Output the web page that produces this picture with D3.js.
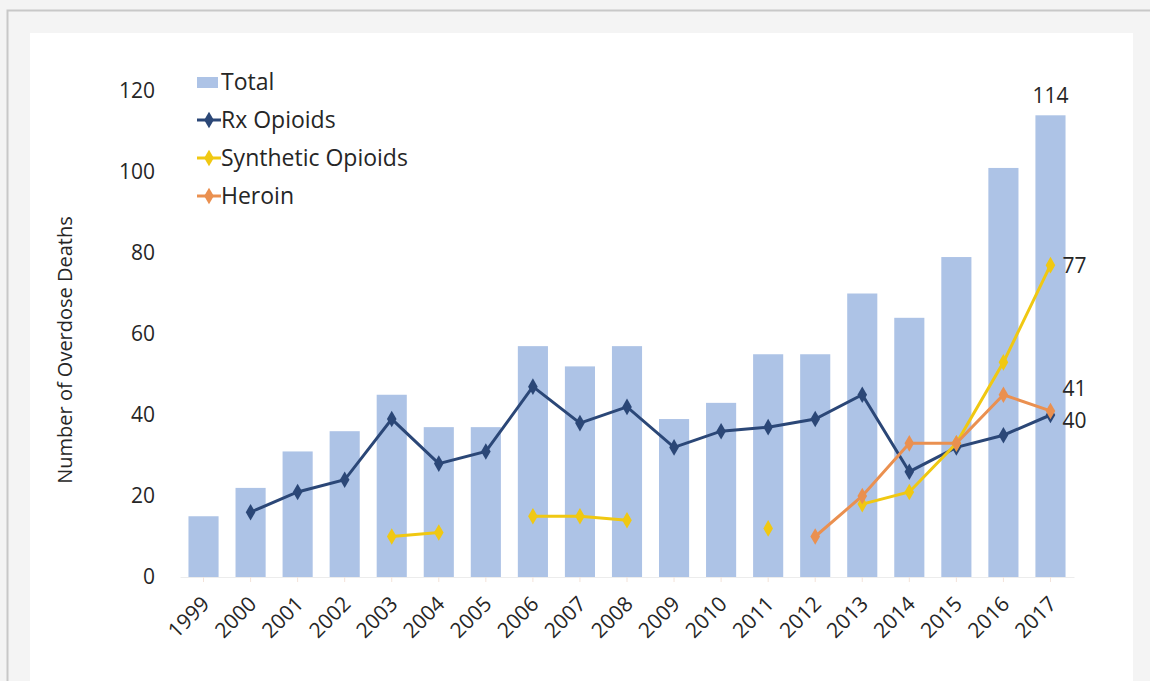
<!DOCTYPE html>
<html>
<head>
<meta charset="utf-8">
<script src="https://cdn.jsdelivr.net/npm/d3@7"></script>
<style>
  html, body { margin: 0; padding: 0; background: #f4f4f4; }
  #chart { width: 1150px; height: 681px; }
  text { font-family: "Open Sans", "Liberation Sans", sans-serif; fill: #262626; }
</style>
</head>
<body>
<div id="chart"></div>
<script>
var years = ["1999", "2000", "2001", "2002", "2003", "2004", "2005", "2006", "2007", "2008",
    "2009", "2010", "2011", "2012", "2013", "2014", "2015", "2016", "2017"];
var total = [15, 22, 31, 36, 45, 37, 37, 57, 52, 57, 39, 43, 55, 55, 70, 64, 79, 101, 114];
var rxOpioids = [null, 16, 21, 24, 39, 28, 31, 47, 38, 42, 32, 36, 37, 39, 45, 26, 32, 35, 40];
var synthetic = [null, null, null, null, 10, 11, null, 15, 15, 14, null, null, 12, null, 18, 21, 33, 53, 77];
var heroin = [null, null, null, null, null, null, null, null, null, null, null, null, null, 10, 20, 33, 33, 45, 41];
var yTicks = [0, 20, 40, 60, 80, 100, 120];

var full_width = 1150,
    full_height = 681;

var margin = { top: 91, right: 76, bottom: 104, left: 180 };
var width = full_width - margin.left - margin.right;
var height = full_height - margin.top - margin.bottom;

var svg = d3.select("#chart").append("svg")
    .attr("width", full_width)
    .attr("height", full_height);

// page frame
svg.append("rect")
    .attr("x", 7.5).attr("y", 10.5)
    .attr("width", 1160).attr("height", 700)
    .attr("fill", "#f4f4f4")
    .attr("stroke", "#c8c8c8")
    .attr("stroke-width", 2);

svg.append("rect")
    .attr("x", 30).attr("y", 33)
    .attr("width", 1103).attr("height", 660)
    .attr("fill", "#ffffff");

var x = d3.scaleBand()
    .domain(years)
    .range([0, width])
    .paddingInner(0.36)
    .paddingOuter(0.18);

var y = d3.scaleLinear()
    .domain([0, 120])
    .range([height, 0]);

var g = svg.append("g")
    .attr("transform", "translate(" + margin.left + "," + margin.top + ")");

// bars
g.selectAll(".bar")
    .data(total)
    .enter().append("rect")
    .attr("class", "bar")
    .attr("x", function(d, i) { return x(years[i]); })
    .attr("width", x.bandwidth())
    .attr("y", function(d) { return y(d); })
    .attr("height", function(d) { return height - y(d); })
    .attr("fill", "#adc3e6");

// X Axis
var xAxis = g.append("g")
    .attr("transform", "translate(0," + height + ")")
    .call(d3.axisBottom(x).tickSize(5).tickSizeOuter(0));
xAxis.select(".domain").attr("stroke", "#ececec");
xAxis.selectAll(".tick line").attr("stroke", "#f3e3da");
xAxis.selectAll(".tick text")
    .attr("transform", "translate(2,23) rotate(-45)")
    .style("text-anchor", "end")
    .attr("dy", "0.35em")
    .attr("y", 0)
    .attr("x", 0)
    .style("font-size", "21px");

// Y Axis
var yAxis = g.append("g")
    .call(d3.axisLeft(y).tickValues(yTicks).tickSize(0));
yAxis.select(".domain").remove();
yAxis.selectAll(".tick text")
    .attr("x", -25)
    .style("font-size", "21px");

// Y Axis label
svg.append("text")
    .attr("transform", "rotate(-90)")
    .attr("x", -350)
    .attr("y", 72)
    .style("text-anchor", "middle")
    .style("font-size", "20px")
    .text("Number of Overdose Deaths");

var series = [
    { name: "Rx Opioids", values: rxOpioids, color: "#2b4777" },
    { name: "Synthetic Opioids", values: synthetic, color: "#f0c812" },
    { name: "Heroin", values: heroin, color: "#ea9050" }
];

var cx = function(i) { return x(years[i]) + x.bandwidth() / 2; };

var line = d3.line()
    .defined(function(d) { return d !== null; })
    .x(function(d, i) { return cx(i); })
    .y(function(d) { return y(d); });

var diamond = d3.symbol().type(d3.symbolDiamond).size(80);

series.forEach(function(s) {
    g.append("path")
        .datum(s.values)
        .attr("fill", "none")
        .attr("stroke", s.color)
        .attr("stroke-width", 3)
        .attr("d", line);

    g.selectAll(".pt-" + s.name.replace(/\s/g, ""))
        .data(s.values.map(function(v, i) { return { v: v, i: i }; })
            .filter(function(d) { return d.v !== null; }))
        .enter().append("path")
        .attr("d", diamond)
        .attr("transform", function(d) {
            return "translate(" + cx(d.i) + "," + y(d.v) + ")";
        })
        .attr("fill", s.color);
});

// end value labels
var last = years.length - 1;
g.append("text")
    .attr("x", cx(last))
    .attr("y", y(total[last]) - 12)
    .style("text-anchor", "middle")
    .style("font-size", "21px")
    .text(total[last]);

[
    { v: synthetic[last], dy: 0 },
    { v: heroin[last], dy: -22 },
    { v: rxOpioids[last], dy: 6 }
].forEach(function(d) {
    g.append("text")
        .attr("x", cx(last) + 12)
        .attr("y", y(d.v) + d.dy)
        .attr("dy", "0.35em")
        .style("font-size", "21px")
        .text(d.v);
});

// Legend
var legend = svg.append("g")
    .attr("transform", "translate(197,82)");

var legendItems = [{ name: "Total", color: "#adc3e6", bar: true }].concat(series);

legendItems.forEach(function(item, i) {
    var row = legend.append("g")
        .attr("transform", "translate(0," + (i * 38) + ")");
    if (item.bar) {
        row.append("rect")
            .attr("x", 0).attr("y", -5)
            .attr("width", 21).attr("height", 11)
            .attr("fill", item.color);
    } else {
        row.append("line")
            .attr("x1", 0).attr("x2", 24)
            .attr("stroke", item.color)
            .attr("stroke-width", 3);
        row.append("path")
            .attr("d", diamond)
            .attr("transform", "translate(12,0)")
            .attr("fill", item.color);
    }
    row.append("text")
        .attr("x", 24)
        .attr("dy", "0.35em")
        .style("font-size", "23px")
        .text(item.name);
});
</script>
</body>
</html>
